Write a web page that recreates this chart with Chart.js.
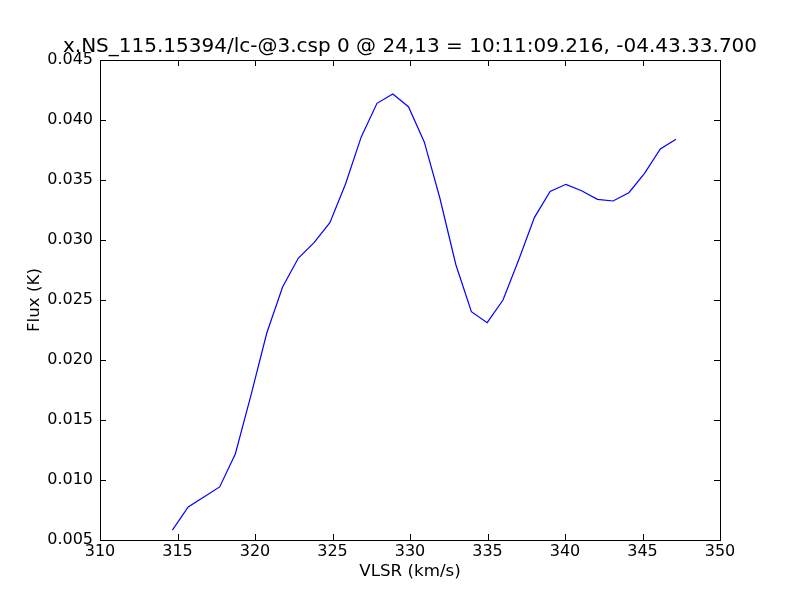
<!DOCTYPE html>
<html>
<head>
<meta charset="utf-8">
<script src="https://cdn.jsdelivr.net/npm/chart.js@4/dist/chart.umd.min.js"></script>
<style>
    html, body { margin: 0; padding: 0; background: #fff; }
    #wrap { width: 800px; height: 600px; }
</style>
</head>
<body>
<div id="wrap"><canvas id="spec" width="800" height="600"></canvas></div>
<script>
// velocity channels (km/s) and flux (K)
const vlsr = [314.67, 315.69, 316.70, 317.72, 318.73, 319.75, 320.76, 321.78, 322.79, 323.81,
    324.83, 325.84, 326.86, 327.87, 328.89, 329.90, 330.92, 331.93, 332.95, 333.96,
    334.98, 336.00, 337.01, 338.03, 339.04, 340.06, 341.07, 342.09, 343.10, 344.12,
    345.13, 346.15, 347.16];
const flux = [0.00583, 0.00775, 0.00858, 0.00942, 0.01217, 0.01712, 0.02225, 0.02608, 0.02848, 0.02978,
    0.03144, 0.03467, 0.03861, 0.04139, 0.04217, 0.04111, 0.03817, 0.03348, 0.02798, 0.02403,
    0.02311, 0.02500, 0.02833, 0.03189, 0.03404, 0.03464, 0.03411, 0.03339, 0.03325, 0.03394,
    0.03556, 0.03758, 0.03839];
const xTicks = [310, 315, 320, 325, 330, 335, 340, 345, 350];
const yTicks = [0.005, 0.010, 0.015, 0.020, 0.025, 0.030, 0.035, 0.040, 0.045];

const titleText = 'x.NS_115.15394/lc-@3.csp 0 @ 24,13 = 10:11:09.216, -04.43.33.700';
const FONT = 'DejaVu Sans';

// matplotlib style frame with ticks pointing inward on all four sides, plus the title
const frameTicks = {
    id: 'frameTicks',
    afterDatasetsDraw(chart) {
        const ctx = chart.ctx;
        const a = chart.chartArea;
        const xs = chart.scales.x;
        const ys = chart.scales.y;
        const len = 6;
        ctx.save();
        ctx.strokeStyle = '#000';
        ctx.lineWidth = 1;
        ctx.beginPath();
        xTicks.forEach(v => {
            const px = Math.round(xs.getPixelForValue(v)) + 0.5;
            ctx.moveTo(px, a.bottom); ctx.lineTo(px, a.bottom - len);
            ctx.moveTo(px, a.top); ctx.lineTo(px, a.top + len);
        });
        yTicks.forEach(v => {
            const py = Math.round(ys.getPixelForValue(v)) + 0.5;
            ctx.moveTo(a.left, py); ctx.lineTo(a.left + len, py);
            ctx.moveTo(a.right, py); ctx.lineTo(a.right - len, py);
        });
        ctx.stroke();
        ctx.strokeRect(Math.round(a.left) + 0.5, Math.round(a.top) + 0.5,
            Math.round(a.right - a.left), Math.round(a.bottom - a.top));

        ctx.fillStyle = '#000';
        ctx.font = '20px "' + FONT + '"';
        ctx.textAlign = 'center';
        ctx.textBaseline = 'middle';
        ctx.fillText(titleText, (a.left + a.right) / 2, a.top - 13);
        ctx.restore();
    }
};

const points = vlsr.map((v, i) => ({x: v, y: flux[i]}));

new Chart(document.getElementById('spec'), {
    type: 'line',
    data: {
        datasets: [{
            data: points,
            borderColor: '#0000ff',
            borderWidth: 1.2,
            pointRadius: 0,
            fill: false,
            tension: 0
        }]
    },
    options: {
        responsive: false,
        animation: false,
        layout: {padding: {left: 0, right: 80, top: 60, bottom: 0}},
        plugins: {
            legend: {display: false},
            tooltip: {enabled: false},
            title: {display: false}
        },
        scales: {
            x: {
                type: 'linear',
                min: 310,
                max: 350,
                afterBuildTicks: s => { s.ticks = xTicks.map(v => ({value: v})); },
                afterFit: s => { s.height = 60; },
                grid: {display: false, drawTicks: false},
                border: {display: false},
                ticks: {
                    color: '#000',
                    padding: 2,
                    font: {family: FONT, size: 16},
                    callback: v => String(v)
                },
                title: {
                    display: true,
                    text: 'VLSR (km/s)',
                    color: '#000',
                    font: {family: FONT, size: 16.7},
                    padding: {top: 1, bottom: 18}
                }
            },
            y: {
                type: 'linear',
                min: 0.005,
                max: 0.045,
                afterBuildTicks: s => { s.ticks = yTicks.map(v => ({value: v})); },
                afterFit: s => { s.width = 100; },
                grid: {display: false, drawTicks: false},
                border: {display: false},
                ticks: {
                    color: '#000',
                    padding: 7,
                    font: {family: FONT, size: 16},
                    callback: v => v.toFixed(3)
                },
                title: {
                    display: true,
                    text: 'Flux (K)',
                    color: '#000',
                    font: {family: FONT, size: 16.7},
                    padding: {top: 25, bottom: 0}
                }
            }
        }
    },
    plugins: [frameTicks]
});
</script>
</body>
</html>
